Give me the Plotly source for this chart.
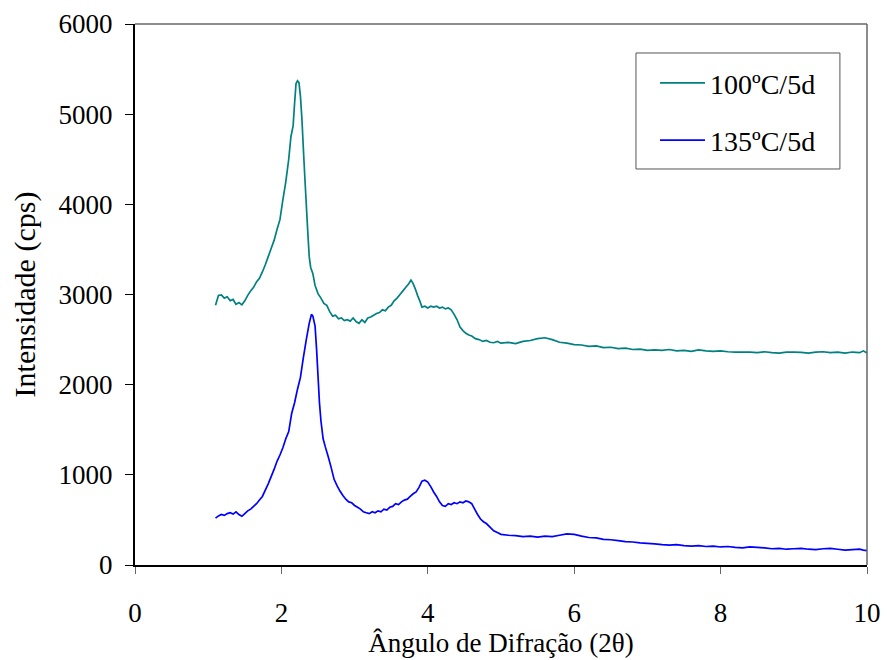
import plotly.graph_objects as go

# ---- data ----
x_100 = [1.10, 1.14, 1.18, 1.22, 1.26, 1.30, 1.34, 1.38, 1.42, 1.46, 1.50, 1.54, 1.58, 1.62, 1.66,
         1.70, 1.74, 1.78, 1.82, 1.86, 1.90, 1.94, 1.98, 2.02, 2.06, 2.10, 2.13, 2.16, 2.18, 2.20,
         2.22, 2.24, 2.26, 2.28, 2.30, 2.32, 2.34, 2.36, 2.38, 2.40, 2.43, 2.46, 2.50, 2.54, 2.58,
         2.62, 2.66, 2.70, 2.74, 2.78, 2.82, 2.86, 2.90, 2.94, 2.98, 3.02, 3.06, 3.10, 3.14, 3.18,
         3.22, 3.26, 3.30, 3.34, 3.38, 3.42, 3.46, 3.50, 3.54, 3.58, 3.62, 3.66, 3.70, 3.74, 3.77,
         3.80, 3.83, 3.86, 3.89, 3.92, 3.96, 4.00, 4.04, 4.08, 4.12, 4.16, 4.20, 4.24, 4.28, 4.32,
         4.36, 4.40, 4.44, 4.48, 4.52, 4.56, 4.60, 4.65, 4.70, 4.75, 4.80, 4.85, 4.90, 4.95, 5.00,
         5.10, 5.20, 5.30, 5.40, 5.50, 5.60, 5.70, 5.80, 5.90, 6.00, 6.10, 6.20, 6.30, 6.40, 6.50,
         6.60, 6.70, 6.80, 6.90, 7.00, 7.10, 7.20, 7.30, 7.40, 7.50, 7.60, 7.70, 7.80, 7.90, 8.00,
         8.10, 8.20, 8.30, 8.40, 8.50, 8.60, 8.70, 8.80, 8.90, 9.00, 9.10, 9.20, 9.30, 9.40, 9.50,
         9.60, 9.70, 9.80, 9.90, 9.95, 10.00]
y_100 = [2880, 2990, 2995, 2960, 2975, 2930, 2945, 2890, 2910, 2885, 2930, 2990, 3040, 3080, 3140,
         3180, 3250, 3330, 3420, 3510, 3600, 3720, 3830, 4050, 4250, 4500, 4750, 4870, 5120, 5340,
         5370, 5350, 5200, 4950, 4620, 4300, 4000, 3700, 3420, 3300, 3230, 3100, 3010, 2960, 2900,
         2880, 2810, 2760, 2770, 2730, 2740, 2710, 2720, 2705, 2740, 2700, 2680, 2720, 2690, 2740,
         2750, 2770, 2790, 2800, 2830, 2820, 2860, 2880, 2930, 2960, 3000, 3040, 3080, 3120, 3160,
         3120, 3060, 2990, 2930, 2860, 2870, 2850, 2870, 2860, 2870, 2850, 2860, 2840, 2850, 2830,
         2780, 2720, 2640, 2600, 2570, 2550, 2540, 2510, 2500, 2480, 2490, 2470, 2465, 2480, 2460,
         2470, 2455, 2480, 2490, 2510, 2520, 2500, 2470, 2460, 2445, 2440, 2425, 2430, 2410, 2415,
         2400, 2405, 2390, 2395, 2380, 2385, 2380, 2390, 2375, 2380, 2370, 2385, 2375, 2370, 2375,
         2365, 2360, 2360, 2360, 2355, 2365, 2355, 2350, 2360, 2360, 2358, 2350, 2360, 2365, 2355,
         2360, 2350, 2362, 2355, 2375, 2350]

x_135 = [1.10, 1.14, 1.18, 1.22, 1.26, 1.30, 1.34, 1.38, 1.42, 1.46, 1.50, 1.54, 1.58, 1.62, 1.66,
         1.70, 1.74, 1.78, 1.82, 1.86, 1.90, 1.94, 1.98, 2.02, 2.06, 2.10, 2.14, 2.18, 2.22, 2.26,
         2.30, 2.34, 2.38, 2.41, 2.43, 2.46, 2.48, 2.50, 2.52, 2.54, 2.57, 2.60, 2.64, 2.68, 2.72,
         2.76, 2.80, 2.84, 2.88, 2.92, 2.96, 3.00, 3.04, 3.08, 3.12, 3.16, 3.20, 3.24, 3.28, 3.32,
         3.36, 3.40, 3.44, 3.48, 3.52, 3.56, 3.60, 3.64, 3.68, 3.72, 3.76, 3.80, 3.84, 3.88, 3.92,
         3.96, 4.00, 4.04, 4.08, 4.12, 4.16, 4.20, 4.24, 4.28, 4.32, 4.36, 4.40, 4.44, 4.48, 4.52,
         4.56, 4.60, 4.64, 4.68, 4.72, 4.76, 4.80, 4.85, 4.90, 4.95, 5.00, 5.10, 5.20, 5.30, 5.40,
         5.50, 5.60, 5.70, 5.80, 5.90, 6.00, 6.10, 6.20, 6.30, 6.40, 6.50, 6.60, 6.70, 6.80, 6.90,
         7.00, 7.10, 7.20, 7.30, 7.40, 7.50, 7.60, 7.70, 7.80, 7.90, 8.00, 8.10, 8.20, 8.30, 8.40,
         8.50, 8.60, 8.70, 8.80, 8.90, 9.00, 9.10, 9.20, 9.30, 9.40, 9.50, 9.60, 9.70, 9.80, 9.90,
         9.95, 10.00]
y_135 = [520, 545, 560, 550, 570, 580, 565, 590, 560, 540, 570, 600, 620, 650, 680,
         720, 760, 830, 900, 980, 1060, 1150, 1220, 1300, 1400, 1480, 1680, 1800, 1950, 2080,
         2300, 2500, 2680, 2780, 2760, 2650, 2400, 2100, 1800, 1600, 1400, 1310, 1200, 1080, 950,
         880, 820, 770, 730, 700, 690, 660, 640, 620, 590, 580, 570, 590, 580, 600,
         590, 620, 610, 640, 650, 680, 670, 700, 720, 730, 760, 790, 810, 860, 930,
         940, 920, 870, 810, 760, 700, 660, 650, 680, 670, 690, 680, 700, 690, 710,
         700, 680, 620, 560, 510, 480, 460, 420, 380, 360, 340, 330, 325, 315, 320,
         310, 320, 315, 330, 345, 340, 320, 305, 300, 285, 280, 270, 260, 255, 245,
         240, 235, 225, 220, 225, 215, 210, 215, 205, 210, 200, 205, 195, 190, 200,
         195, 190, 180, 185, 175, 180, 185, 175, 170, 180, 185, 175, 165, 170, 175,
         165, 160]

series_names = ["100ºC/5d", "135ºC/5d"]
series_colors = ["#008080", "#0000FF"]

x_ticks = [0, 2, 4, 6, 8, 10]
y_ticks = [0, 1000, 2000, 3000, 4000, 5000, 6000]

FONT = '"Liberation Serif", "Times New Roman", Times, serif'

fig = go.Figure()
for xs, ys, name, col, grp in [(x_100, y_100, series_names[0], series_colors[0], "a"),
                               (x_135, y_135, series_names[1], series_colors[1], "b")]:
    fig.add_trace(go.Scatter(x=xs, y=ys, mode="lines", name=name, legendgroup=grp,
                             line=dict(color=col, width=1.7, simplify=False)))

fig.update_layout(
    width=887, height=660, autosize=False,
    margin=dict(l=135, r=20, t=24, b=95, autoexpand=False),
    paper_bgcolor="white", plot_bgcolor="white",
    font=dict(family=FONT, size=27, color="black"),
    showlegend=True,
    legend=dict(x=0.7104, y=0.937, xanchor="left", yanchor="top",
                borderwidth=0, bgcolor="rgba(0,0,0,0)",
                font=dict(family=FONT, size=28), traceorder="grouped",
                tracegroupgap=18, itemwidth=45),
    xaxis=dict(range=[0, 10], tickvals=x_ticks, showgrid=False, zeroline=False,
               automargin=False,
               showline=True, linecolor="black", linewidth=2,
               ticks="outside", ticklen=7, tickcolor="#666666", tickwidth=1,
               ticklabelstandoff=16,
               title=dict(text="Ângulo de Difração (2θ)", standoff=4,
                          font=dict(family=FONT, size=27))),
    yaxis=dict(range=[0, 6000], tickvals=y_ticks, showgrid=False, zeroline=False,
               automargin=False,
               showline=True, linecolor="black", linewidth=2,
               ticks="outside", ticklen=8, tickcolor="black", tickwidth=1,
               ticklabelstandoff=7,
               title=dict(text="Intensidade (cps)", standoff=14,
                          font=dict(family=FONT, size=30))),
    shapes=[
        dict(type="line", xref="paper", yref="paper", x0=0, x1=1, y0=1, y1=1,
             line=dict(color="#666666", width=1.5)),
        dict(type="line", xref="paper", yref="paper", x0=1, x1=1, y0=0, y1=1,
             line=dict(color="#666666", width=1.5)),
        # legend frame
        dict(type="rect", xref="paper", yref="paper", x0=0.6844, x1=0.963, y0=0.732, y1=0.9464,
             line=dict(color="#555555", width=1), fillcolor="rgba(0,0,0,0)", layer="above"),
    ],
)

fig.write_html("out.html")
